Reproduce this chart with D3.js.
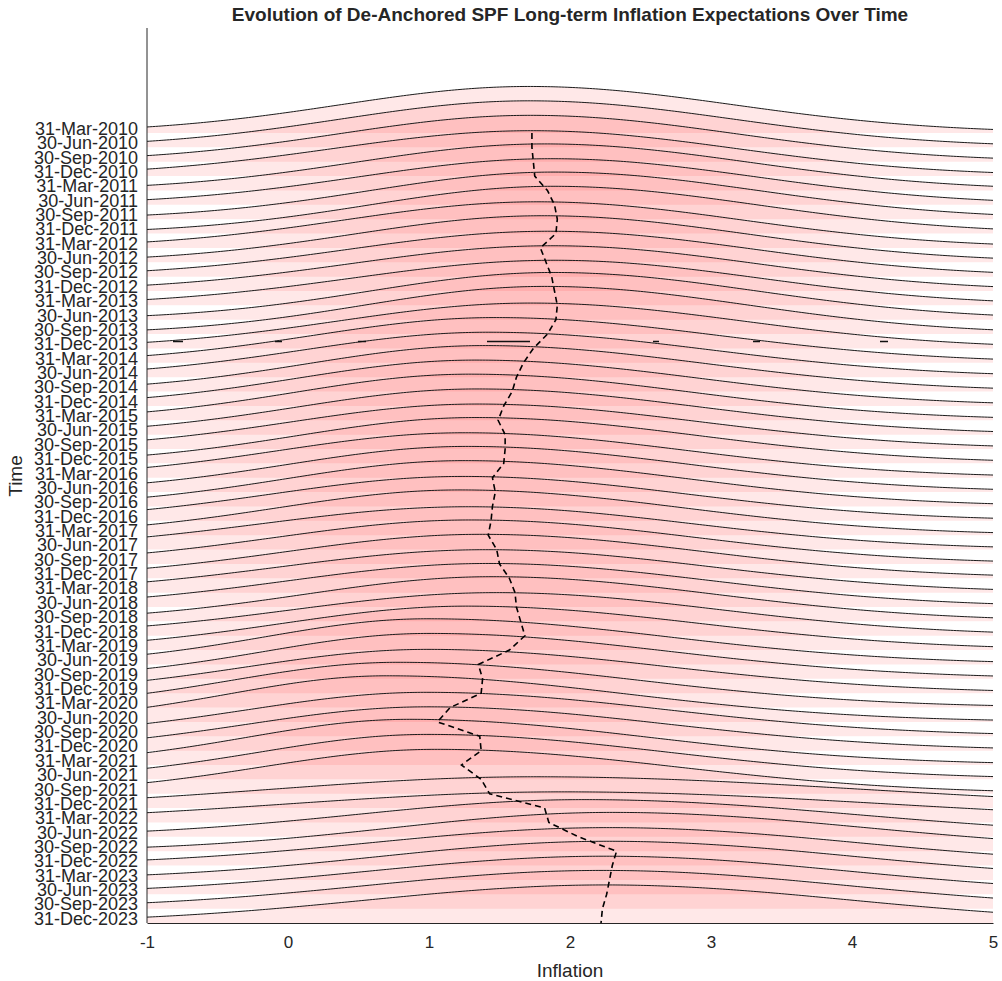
<!DOCTYPE html>
<html>
<head>
<meta charset="utf-8">
<script src="https://cdn.jsdelivr.net/npm/d3@7"></script>
<style>
  body { margin: 0; background: #fff; }
  text { font-family: "Liberation Sans", Arial, Helvetica, sans-serif; fill: #262626; }
</style>
</head>
<body>
<div id="chart"></div>
<script>
// quarter labels, top to bottom
const quarters = [
  "31-Mar-2010","30-Jun-2010","30-Sep-2010","31-Dec-2010",
  "31-Mar-2011","30-Jun-2011","30-Sep-2011","31-Dec-2011",
  "31-Mar-2012","30-Jun-2012","30-Sep-2012","31-Dec-2012",
  "31-Mar-2013","30-Jun-2013","30-Sep-2013","31-Dec-2013",
  "31-Mar-2014","30-Jun-2014","30-Sep-2014","31-Dec-2014",
  "31-Mar-2015","30-Jun-2015","30-Sep-2015","31-Dec-2015",
  "31-Mar-2016","30-Jun-2016","30-Sep-2016","31-Dec-2016",
  "31-Mar-2017","30-Jun-2017","30-Sep-2017","31-Dec-2017",
  "31-Mar-2018","30-Jun-2018","30-Sep-2018","31-Dec-2018",
  "31-Mar-2019","30-Jun-2019","30-Sep-2019","31-Dec-2019",
  "31-Mar-2020","30-Jun-2020","30-Sep-2020","31-Dec-2020",
  "31-Mar-2021","30-Jun-2021","30-Sep-2021","31-Dec-2021",
  "31-Mar-2022","30-Jun-2022","30-Sep-2022","31-Dec-2022",
  "31-Mar-2023","30-Jun-2023","30-Sep-2023","31-Dec-2023"
];

// mean expectation per quarter (dashed line)
const means = [
  1.73,1.73,1.74,1.75, 1.84,1.89,1.91,1.90, 1.79,1.83,1.87,1.89,
  1.91,1.90,1.84,1.74, 1.67,1.62,1.59,1.53, 1.49,1.54,1.54,1.53,
  1.45,1.47,1.45,1.44, 1.42,1.48,1.50,1.57, 1.61,1.62,1.65,1.68,
  1.57,1.35,1.38,1.37, 1.15,1.06,1.36,1.37, 1.23,1.37,1.43,1.82,
  1.85,2.06,2.33,2.30, 2.28,2.26,2.23,2.22
];

// density shape per quarter: mode, left / right spread, peak height (in row spacings)
const modes = [
  1.71,1.71,1.72,1.73, 1.82,1.87,1.89,1.88, 1.77,1.81,1.85,1.87,
  1.89,1.88,1.82,1.72, 1.47,1.42,1.39,1.33, 1.29,1.34,1.34,1.33,
  1.25,1.27,1.25,1.24, 1.22,1.28,1.30,1.37, 1.41,1.42,1.45,1.48,
  1.27,0.99,1.00,0.99, 0.78,0.70,0.98,0.99, 0.86,0.99,1.05,1.75,
  1.95,2.10,2.30,2.28, 2.27,2.25,2.23,2.25
];
const sdLeft = [
  1.34,1.34,1.35,1.41, 1.34,1.37,1.31,1.30, 1.37,1.34,1.41,1.42,
  1.43,1.30,1.28,1.36, 1.29,1.31,1.25,1.26, 1.24,1.27,1.31,1.26,
  1.31,1.27,1.26,1.35, 1.29,1.46,1.38,1.38, 1.45,1.41,1.33,1.44,
  1.31,1.15,1.16,1.27, 1.17,1.12,1.26,1.27, 1.15,1.19,1.23,1.85,
  1.95,1.60,1.55,1.68, 1.62,1.68,1.67,1.68
];
const sdRight = [
  1.45,1.45,1.45,1.45, 1.45,1.45,1.45,1.45, 1.45,1.45,1.45,1.45,
  1.45,1.45,1.45,1.50, 1.58,1.58,1.58,1.58, 1.58,1.58,1.58,1.58,
  1.58,1.58,1.58,1.58, 1.58,1.58,1.58,1.58, 1.58,1.58,1.58,1.58,
  1.65,1.70,1.70,1.70, 1.70,1.70,1.70,1.70, 1.70,1.70,1.70,2.30,
  2.30,1.90,1.80,1.75, 1.75,1.73,1.73,1.73
];
const peaks = [
  3.24,3.24,3.23,3.16, 3.24,3.21,3.28,3.29, 3.21,3.24,3.16,3.15,
  3.14,3.29,3.32,3.16, 3.15,3.13,3.20,3.19, 3.21,3.18,3.13,3.19,
  3.13,3.18,3.19,3.09, 3.15,2.98,3.06,3.06, 2.99,3.03,3.11,3.00,
  3.06,3.18,3.16,3.05, 3.15,3.21,3.06,3.05, 3.18,3.13,3.09,2.18,
  2.13,2.59,2.70,2.64, 2.69,2.65,2.66,2.65
];

const xTicks = [-1, 0, 1, 2, 3, 4, 5];
// the 31-Dec-2013 row also carries a flat, broken trace in the original
const brokenRow = "31-Dec-2013";

const W = 1002, H = 981;
const svg = d3.select("#chart").append("svg")
  .attr("width", W).attr("height", H);

const x = d3.scaleLinear().domain([-1, 5]).range([147, 993]);
const y = d3.scaleLinear().domain([0, quarters.length - 1]).range([133, 923]);
const rowH = y(1) - y(0);

const grid = d3.range(-1, 5.0001, 0.02);
const rows = quarters.map((q, i) => ({
  q, i,
  mean: means[i],
  pts: grid.map(v => {
    const s = v < modes[i] ? sdLeft[i] : sdRight[i];
    return [v, peaks[i] * Math.exp(-((v - modes[i]) ** 2) / (2 * s * s))];
  })
}));

const area = d3.area().x(d => x(d[0]));
const line = d3.line().x(d => x(d[0]));

const g = svg.append("g");
rows.forEach(r => {
  const base = y(r.i);
  g.append("path")
    .datum(r.pts)
    .attr("d", area.y0(base).y1(d => base - d[1] * rowH))
    .attr("fill", "#ff0000")
    .attr("fill-opacity", 0.09)
    .attr("stroke", "none");
  g.append("path")
    .datum(r.pts)
    .attr("d", line.y(d => base - d[1] * rowH))
    .attr("fill", "none")
    .attr("stroke", "#1a1a1a")
    .attr("stroke-width", 1);
});

const bi = quarters.indexOf(brokenRow);
svg.append("line")
  .attr("x1", x(-1)).attr("x2", x(5))
  .attr("y1", y(bi) - 7).attr("y2", y(bi) - 7)
  .attr("stroke", "#111")
  .attr("stroke-width", 1.6)
  .attr("stroke-dasharray", "0 26 10 92 7 76 8 121 43 123 6 94 7 120 8 200");

// dashed line through the means
svg.append("path")
  .datum(rows)
  .attr("d", d3.line().x(d => x(d.mean)).y(d => y(d.i)))
  .attr("fill", "none")
  .attr("stroke", "#000")
  .attr("stroke-width", 1.6)
  .attr("stroke-dasharray", "6 4");

// axes
const xAxis = svg.append("g").attr("transform", `translate(0,${y(quarters.length - 1)})`)
  .call(d3.axisBottom(x).tickValues(xTicks).tickSize(0).tickPadding(13).tickFormat(d => String(d)));
xAxis.select(".domain").attr("stroke", "#262626");
xAxis.selectAll("text").attr("font-size", 17).attr("fill", "#262626");

svg.append("line")
  .attr("x1", 147).attr("x2", 147).attr("y1", 28).attr("y2", y(quarters.length - 1))
  .attr("stroke", "#262626");

svg.append("g").selectAll("text")
  .data(quarters)
  .join("text")
  .attr("x", 138)
  .attr("y", (d, i) => y(i) - 4.5)
  .attr("dy", "0.35em")
  .attr("text-anchor", "end")
  .attr("font-size", 18)
  .text(d => d);

svg.append("text")
  .attr("x", 570).attr("y", 21)
  .attr("text-anchor", "middle")
  .attr("font-size", 19)
  .attr("font-weight", "bold")
  .attr("fill", "#000")
  .text("Evolution of De-Anchored SPF Long-term Inflation Expectations Over Time");

svg.append("text")
  .attr("x", 570).attr("y", 977)
  .attr("text-anchor", "middle")
  .attr("font-size", 19)
  .text("Inflation");

svg.append("text")
  .attr("transform", "translate(22,476) rotate(-90)")
  .attr("text-anchor", "middle")
  .attr("font-size", 19)
  .text("Time");
</script>
</body>
</html>
